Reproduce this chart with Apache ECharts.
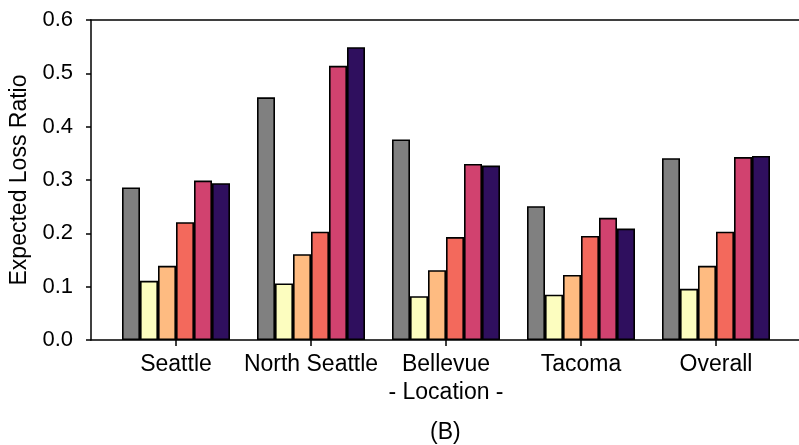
<!DOCTYPE html>
<html>
<head>
<meta charset="utf-8">
<script src="https://cdn.jsdelivr.net/npm/echarts@6/dist/echarts.min.js"></script>
<style>html,body{margin:0;padding:0;background:#fff}#c{width:799px;height:445px}</style>
</head>
<body>
<div id="c"></div>
<script>
var categories = ['Seattle', 'North Seattle', 'Bellevue', 'Tacoma', 'Overall'];
var seriesNames = ['s0', 's1', 's2', 's3', 's4', 's5'];
var s0 = [0.286, 0.455, 0.376, 0.251, 0.341];
var s1 = [0.111, 0.106, 0.082, 0.085, 0.096];
var s2 = [0.139, 0.161, 0.131, 0.122, 0.139];
var s3 = [0.221, 0.203, 0.193, 0.195, 0.203];
var s4 = [0.299, 0.514, 0.330, 0.229, 0.343];
var s5 = [0.294, 0.549, 0.327, 0.209, 0.345];
var seriesValues = [s0, s1, s2, s3, s4, s5];
var colors = ['#808080', '#fcfdbf', '#febb81', '#f3695c', '#d1426f', '#2f0f5e'];
var yTicks = [0.0, 0.1, 0.2, 0.3, 0.4, 0.5, 0.6];

var FONT = '"Liberation Sans", Arial, sans-serif';
var chart = echarts.init(document.getElementById('c'));
var series = seriesValues.map(function (vals, i) {
  return {
    name: seriesNames[i], type: 'bar', xAxisIndex: 2, yAxisIndex: 1,
    data: vals, barWidth: 18, barGap: '0%',
    itemStyle: { color: colors[i], borderColor: '#000', borderWidth: 1.6 },
    silent: true
  };
});
chart.setOption({
  animation: false,
  textStyle: { fontFamily: FONT },
  grid: [
    { left: 88, right: 0, top: 20, bottom: 105 },
    { left: 108.5, right: 15.5, top: 20, bottom: 105 }
  ],
  xAxis: [
    { gridIndex: 0, type: 'value', min: 0, max: 1, position: 'bottom',
      axisLine: { show: true, lineStyle: { color: '#000', width: 1.5 } },
      axisTick: { show: false }, axisLabel: { show: false }, splitLine: { show: false } },
    { gridIndex: 0, type: 'value', min: 0, max: 1, position: 'top',
      axisLine: { show: true, lineStyle: { color: '#000', width: 1.5 } },
      axisTick: { show: false }, axisLabel: { show: false }, splitLine: { show: false } },
    { gridIndex: 1, type: 'category', data: categories, boundaryGap: true,
      axisLine: { show: false },
      axisTick: { show: true, alignWithLabel: true, length: 6, lineStyle: { color: '#000', width: 1.5 } },
      axisLabel: { fontSize: 23, color: '#000', margin: 13, interval: 0, fontFamily: FONT },
      name: '- Location -', nameLocation: 'middle', nameGap: 41,
      nameTextStyle: { fontSize: 23, color: '#000', fontFamily: FONT },
      splitLine: { show: false } }
  ],
  yAxis: [
    { gridIndex: 0, type: 'value', min: 0, max: 0.6, interval: 0.1,
      axisLine: { show: true, lineStyle: { color: '#000', width: 1.5 } },
      axisTick: { show: true, length: 5, lineStyle: { color: '#000', width: 1.5 } },
      axisLabel: { fontSize: 22, color: '#000', margin: 18, fontFamily: FONT,
        formatter: function (v) { return v.toFixed(1); } },
      splitLine: { show: false },
      name: 'Expected Loss Ratio', nameLocation: 'middle', nameGap: 60,
      nameTextStyle: { fontSize: 23, color: '#000', fontFamily: FONT } },
    { gridIndex: 1, type: 'value', min: 0, max: 0.6, interval: 0.1, show: false }
  ],
  graphic: [
    { type: 'text', left: 430, top: 421,
      style: { text: '(B)', fill: '#000', font: '23px ' + FONT } }
  ],
  series: series
});
</script>
</body>
</html>
